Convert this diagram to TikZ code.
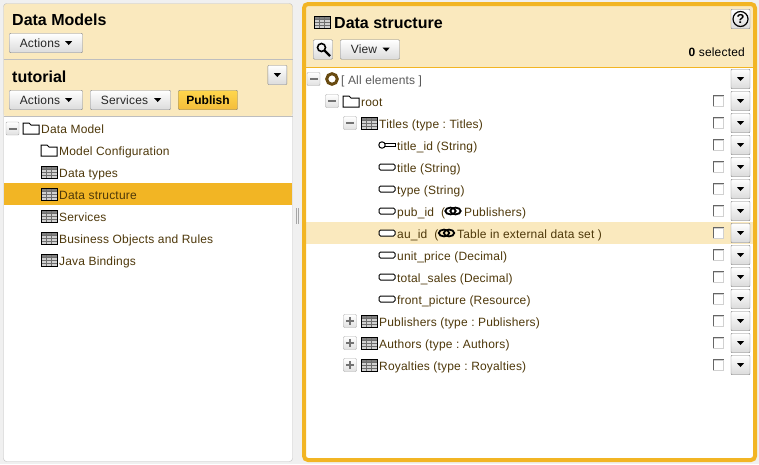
\documentclass[tikz,border=0pt]{standalone}
\usepackage{fontspec}
\setmainfont{Liberation Sans}
\newfontfamily\uifont[LetterSpace=1.5]{Liberation Sans}
\usepackage{xcolor}
\usetikzlibrary{positioning}
\definecolor{dmbg}{RGB}{240,240,240}
\definecolor{dmcream}{RGB}{250,233,190}
\definecolor{dmorange}{RGB}{242,181,36}
\definecolor{dmedge}{RGB}{190,190,190}
\definecolor{dmbrown}{RGB}{78,56,10}
\definecolor{dmring}{RGB}{104,74,16}
\definecolor{dmgrid}{RGB}{110,110,110}
\tikzset{
  btnbox/.style={draw=black!48,rounded corners=1pt,top color=white,bottom color=black!14,
    minimum height=19.5pt,inner sep=0pt,text=black!85,font=\fontsize{12}{14}\uifont},
  pubbox/.style={btnbox,top color=orange!45!yellow!70,bottom color=dmorange!90,text=black,
    font=\fontsize{12}{14}\selectfont\bfseries},
  toggle/.style={draw=black!32,rounded corners=1pt,top color=white,bottom color=black!12,
    minimum size=13pt,inner sep=0pt},
  chkbox/.style={draw=black!18,fill=white,minimum size=10.5pt,inner sep=0pt},
  treelbl/.style={anchor=base west,inner sep=0pt,text=dmbrown,font=\fontsize{12}{14}\uifont\frenchspacing},
  headlbl/.style={anchor=base west,inner sep=0pt,text=black,font=\fontsize{16}{18}\selectfont\bfseries},
  caret/.pic={\fill[black] (-3.5,-1.8) -- (3.5,-1.8) -- (0,2) -- cycle;},
  tblicon/.pic={
    \fill[black!18] (-8,-6) rectangle (8,6);
    \fill[black!50] (-8,-6) rectangle (8,-3);
    \foreach \gx in {-3,2}{\draw[dmgrid,line width=.8pt] (\gx,-6) -- (\gx,6);}
    \foreach \gy in {-3,0,3}{\draw[dmgrid,line width=.8pt] (-8,\gy) -- (8,\gy);}
    \draw[black,line width=1pt] (-8,-6) rectangle (8,6);},
  foldicon/.pic={
    \draw[black,fill=white,line width=1pt] (-8,6) -- (-8,-5) -- (-2,-5) -- (0,-3) -- (8,-3) -- (8,6) -- cycle;},
  fieldicon/.pic={
    \draw[black,fill=white,line width=1pt,rounded corners=1.5pt] (-8,-3) -- (8,-3) -- (8,3) -- (-8,3) -- cycle;},
  keyicon/.pic={
    \draw[black,fill=white,line width=.9pt] (-3,-1.5) -- (8,-1.5) -- (8,1.5) -- (-3,1.5);
    \draw[black,fill=white,line width=1pt] (-5,0) circle (3.2);},
  linkicon/.pic={
    \draw[black,line width=1.8pt] (-2.5,0) ellipse (5.2 and 3.4);
    \draw[black,line width=1.8pt] (2.5,0) ellipse (5.2 and 3.4);},
}
\newcommand{\minusmark}[1]{\fill[black!55] (#1.center) ++(-4,-1) rectangle ++(8,2);}
\newcommand{\plusmark}[1]{\minusmark{#1}\fill[black!55] (#1.center) ++(-1,-4) rectangle ++(2,8);}
\begin{document}
\begin{tikzpicture}[x=1pt,y=-1pt]
\useasboundingbox (0,0) rectangle (759,464);
\fill[dmbg] (0,0) rectangle (759,464);

% Left panel
\fill[white,rounded corners=3pt] (3.5,3.5) rectangle (292.5,461.5);
\fill[dmcream,rounded corners=3pt] (3.5,3.5) -- (3.5,116.5) -- (292.5,116.5) -- (292.5,3.5) -- cycle;
\fill[dmorange] (4,183) rectangle (292,205);
\draw[dmedge] (3.5,59.5) -- (292.5,59.5);
\draw[dmedge] (3.5,116.5) -- (292.5,116.5);
\draw[dmedge,rounded corners=3pt] (3.5,3.5) rectangle (292.5,461.5);

\node[headlbl] (modelstitle) at (12,25) {Data Models};
\node[headlbl] (tutorialtitle) at (12,82) {tutorial};
\node[btnbox,minimum width=73pt] (actionsa) at (46,43) {Actions\hspace{12pt}\null};
\node[btnbox,minimum width=73pt] (actionsb) at (46,100) {Actions\hspace{12pt}\null};
\node[btnbox,minimum width=80pt] (services) at (130.5,100) {Services\hspace{12pt}\null};
\node[pubbox,minimum width=59pt] (publish) at (208,100) {Publish};
\node[btnbox,minimum width=19pt] (tutmenu) at (277.3,75) {};
\pic at ([xshift=-14pt]actionsa.east) {caret};
\pic at ([xshift=-14pt]actionsb.east) {caret};
\pic at ([xshift=-13pt]services.east) {caret};
\pic at (tutmenu.center) {caret};

% Left tree
\node[toggle] (treeroot) at (12.5,128.5) {};
\minusmark{treeroot}
\pic at (31,128) {foldicon};
\node[treelbl] (modellbl) at (41,133) {Data Model};
\pic at (49,150) {foldicon};
\node[treelbl] (configlbl) at (59,155) {Model Configuration};
\foreach \ty/\tname/\ttext in {172/typeslbl/Data types,194/structlbl/Data structure,216/svclbl/Services,
    238/bizlbl/Business Objects and Rules,260/javalbl/Java Bindings}{
  \pic at (49,\ty) {tblicon};
  \node[treelbl] (\tname) at (59,\ty+5) {\ttext};
}

% Splitter
\draw[black!35] (296,208) -- (296,224);
\draw[black!35] (298,208) -- (298,224);

% Right panel
\fill[white,rounded corners=4pt] (304,4) rectangle (755,460);
\fill[dmcream] (305,5) rectangle (754,67);
\fill[dmcream] (306,222) rectangle (753,244);
\draw[dmorange] (305,67.5) -- (754,67.5);
\draw[dmorange,line width=4pt,rounded corners=4pt] (304,4) rectangle (755,460);

\pic at (322,22) {tblicon};
\node[headlbl] (structtitle) at (334,28) {Data structure};
\node[btnbox,minimum width=19pt] (search) at (323,49.5) {};
\draw[black,line width=1.6pt] (321.5,47.5) circle (4);
\draw[black,line width=2.4pt] (324.5,50.5) -- (330,56);
\node[btnbox,minimum width=59pt] (view) at (370,49.5) {View\hspace{12pt}\null};
\pic at ([xshift=-13.5pt]view.east) {caret};
\node[btnbox,minimum width=19pt] (help) at (740.5,19) {};
\draw[black,line width=1.2pt] (help.center) circle (7.5);
\node[inner sep=0pt,font=\fontsize{13}{14}\selectfont\bfseries] (helpmark) at (help.center) {?};
\node[anchor=base east,inner sep=0pt,font=\fontsize{12}{14}\uifont] (selcount) at (745,56) {{\selectfont\bfseries 0} selected};

% Right tree
\node[toggle] (allbtn) at (313.5,79) {};
\minusmark{allbtn}
\draw[dmring,line width=3pt] (332,79) circle (5.3);
\node[treelbl,text=black!65] (alllbl) at (341,84) {[ All elements ]};
\node[toggle] (rootbtn) at (332,101) {};
\minusmark{rootbtn}
\pic at (351,101) {foldicon};
\node[treelbl] (rootlbl) at (361,106) {root};
\node[toggle] (titlesbtn) at (350,123) {};
\minusmark{titlesbtn}
\pic at (369,123) {tblicon};
\node[treelbl] (titleslbl) at (379,128) {Titles (type : Titles)};
\pic at (387,145) {keyicon};
\node[treelbl] (tidlbl) at (397,150) {title\_id (String)};
\foreach \ty/\tname/\ttext in {167/titlelbl/title (String),189/typelbl/type (String),255/pricelbl/unit\_price (Decimal),
    277/saleslbl/total\_sales (Decimal),299/picturelbl/front\_picture (Resource)}{
  \pic at (387,\ty) {fieldicon};
  \node[treelbl] (\tname) at (397,\ty+5) {\ttext};
}
\pic at (387,211) {fieldicon};
\node[treelbl] (publbl) at (397,216) {pub\_id~ (};
\pic at (453,211) {linkicon};
\node[treelbl] (pubtarget) at (464,216) {Publishers)};
\pic at (387,233) {fieldicon};
\node[treelbl] (aulbl) at (397,238) {au\_id~ (};
\pic at (446.5,233) {linkicon};
\node[treelbl] (autarget) at (457,238) {Table in external data set )};
\foreach \ty/\tname/\ttext in {321/pubs/Publishers (type : Publishers),343/auths/Authors (type : Authors),
    365/roys/Royalties (type : Royalties)}{
  \node[toggle] (\tname btn) at (350,\ty) {};
  \plusmark{\tname btn}
  \pic at (369,\ty) {tblicon};
  \node[treelbl] (\tname lbl) at (379,\ty+5) {\ttext};
}

% Row menus and check boxes
\node[btnbox,minimum width=19pt] (menu0) at (740.5,79) {};
\pic at (menu0.center) {caret};
\foreach \n in {1,...,13}{
  \pgfmathsetmacro{\ry}{79+22*\n}
  \node[btnbox,minimum width=19pt] (menu\n) at (740.5,\ry) {};
  \pic at (menu\n.center) {caret};
  \node[chkbox,left=7pt of menu\n] (chk\n) {};
  \draw[black!60] (chk\n.south west) -- (chk\n.north west) -- (chk\n.north east);
}
\end{tikzpicture}
\end{document}
